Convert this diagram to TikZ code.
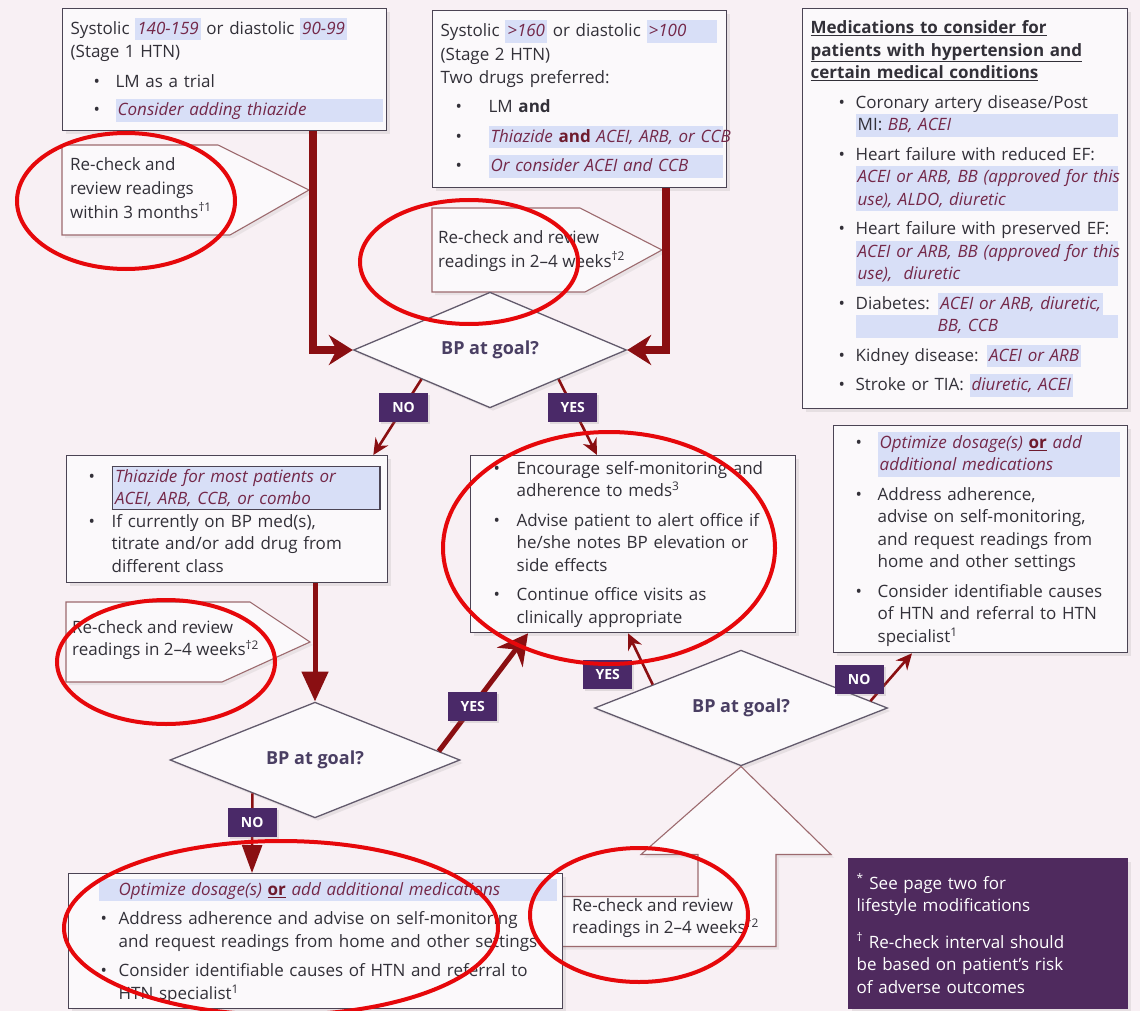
\documentclass[tikz,border=0pt]{standalone}
\usepackage{fontspec}
\setmainfont{Open Sans}
\usepackage{xcolor}
\usetikzlibrary{shapes.geometric, arrows.meta, positioning, calc, shadows}

\definecolor{bgpink}{HTML}{F8F0F4}
\definecolor{boxfill}{HTML}{FBF9FB}
\definecolor{boxline}{HTML}{4B4454}
\definecolor{txtgray}{HTML}{323038}
\definecolor{itred}{HTML}{742849}
\definecolor{andred}{HTML}{6E1B2E}
\definecolor{hlblue}{HTML}{D8DFF7}
\definecolor{arrred}{HTML}{8A0F12}
\definecolor{lblpurple}{HTML}{4A2968}
\definecolor{legpurple}{HTML}{4F2A5E}
\definecolor{dialine}{HTML}{625A6C}
\definecolor{diatext}{HTML}{4A3F63}
\definecolor{rcline}{HTML}{9C6A6E}
\definecolor{ovalred}{HTML}{E6080B}

\newcommand{\mainfs}{\fontsize{17}{22.5}\selectfont}
\newcommand{\hlstrut}{\rule[-6pt]{0pt}{22.5pt}}
\NewDocumentCommand{\bul}{O{15pt} O{23pt}}{\hspace*{#1}\makebox[#2][l]{\textbullet}}
\newcommand{\bind}[1][38pt]{\hspace*{#1}}
\newcommand{\itc}[1]{\textcolor{itred}{\itshape #1}}
\newcommand{\hlb}[1]{{\setlength{\fboxsep}{0pt}\colorbox{hlblue}{\hlstrut\hspace{2pt}#1\hspace{2pt}}}}
\newcommand{\hlw}[2]{{\setlength{\fboxsep}{0pt}\colorbox{hlblue}{\makebox[#1][l]{\hlstrut\hspace{2pt}#2}}}}
\newcommand{\orr}{\textcolor{andred}{\bfseries\underline{or}}}

\begin{document}
\begin{tikzpicture}[x=1pt, y=-1pt,
    every node/.style = {font=\mainfs, text=txtgray},
    box/.style = {draw=boxline, line width=1.3pt, fill=boxfill, anchor=north west,
      align=left, inner xsep=8pt, inner ysep=2pt,
      drop shadow={shadow xshift=3pt, shadow yshift=-3pt, opacity=0.15}},
    legbox/.style = {box, fill=legpurple, draw=legpurple, text=white},
    dia/.style = {diamond, draw=dialine, line width=1.3pt, fill=boxfill, inner sep=0pt,
      font=\fontsize{18}{20}\selectfont\bfseries, text=diatext,
      drop shadow={shadow xshift=3pt, shadow yshift=-3pt, opacity=0.15}},
    rcshape/.style = {draw=rcline, line width=1.1pt, fill=boxfill, line join=miter,
      drop shadow={shadow xshift=3pt, shadow yshift=-3pt, opacity=0.12}},
    rctext/.style = {anchor=north west, align=left, inner sep=0pt},
    yn/.style = {fill=lblpurple, text=white, inner sep=0pt,
      minimum width=49pt, minimum height=29pt,
      font=\fontsize{14}{14}\selectfont\bfseries,
      drop shadow={shadow xshift=2pt, shadow yshift=-2pt, opacity=0.2}},
    flow/.style = {draw=arrred, line width=8pt, line join=miter,
      -{Stealth[length=24pt, width=30pt]}},
    flowm/.style = {draw=arrred, line width=5pt,
      -{Triangle[length=30pt, width=26pt]}},
    flowy/.style = {draw=arrred, line width=5pt,
      -{Stealth[length=30pt, width=32pt]}},
    flowt/.style = {draw=arrred, line width=2.6pt,
      -{Stealth[length=16pt, width=15pt]}},
    flown/.style = {draw=arrred, line width=2.6pt,
      -{Triangle[length=28pt, width=20pt]}},
    oval/.style = {draw=ovalred, line width=4pt},
  ]
  \useasboundingbox (0,0) rectangle (1140,1011);
  \fill[bgpink] (0,0) rectangle (1140,1011);

  % stage boxes
  \node[box, text width=308pt, minimum height=122pt] (s1) at (62,8)
    {Systolic \hlb{\itc{140-159}} or diastolic \hlb{\itc{90-99}}\\[1pt]
     (Stage 1 HTN)\\[7pt]
     \bul[23pt][22pt]LM as a trial\\[6pt]
     \bul[23pt][22pt]\hlw{267pt}{\itc{Consider adding thiazide}}};
  \node[box, text width=278pt, minimum height=177pt] (s2) at (432,10)
    {Systolic \hlb{\itc{>160}} or diastolic \hlw{70pt}{\itc{>100}}\\[1.5pt]
     (Stage 2 HTN)\\
     Two drugs preferred:\\[7pt]
     \bul[15pt][33pt]LM \textbf{and}\\[7pt]
     \bul[15pt][33pt]\hlw{234pt}{\itc{Thiazide} \textcolor{andred}{\bfseries and} \itc{ACEI, ARB, or CCB}}\\[7pt]
     \bul[15pt][33pt]\hlw{234pt}{\itc{Or consider ACEI and CCB}}};

  % medications list
  \node[box, text width=309pt, minimum height=400pt] (med) at (802,8)
    {\textbf{\underline{Medications to consider for}}\\
     \textbf{\underline{patients with hypertension and}}\\
     \textbf{\underline{certain medical conditions}}\\[7pt]
     \bul[28pt][17pt]Coronary artery disease/Post\\
     \bind[45pt]\hlw{262pt}{MI: \itc{BB, ACEI}}\\[7pt]
     \bul[28pt][17pt]Heart failure with reduced EF:\\
     \bind[45pt]\hlw{262pt}{\itc{ACEI or ARB, BB (approved for this}}\\
     \bind[45pt]\hlw{262pt}{\itc{use), ALDO, diuretic}}\\[7pt]
     \bul[28pt][17pt]Heart failure with preserved EF:\\
     \bind[45pt]\hlw{262pt}{\itc{ACEI or ARB, BB (approved for this}}\\
     \bind[45pt]\hlw{262pt}{\itc{use), \ diuretic}}\\[7pt]
     \bul[28pt][17pt]Diabetes: \hlb{\itc{ACEI or ARB, diuretic,}}\\
     \bind[45pt]\hlw{262pt}{\hspace*{80pt}\itc{BB, CCB}}\\[7pt]
     \bul[28pt][17pt]Kidney disease: \hlb{\itc{ACEI or ARB}}\\[7pt]
     \bul[28pt][17pt]Stroke or TIA: \hlb{\itc{diuretic, ACEI}}};

  % re-check callouts
  \draw[rcshape] (62,145) -- (218,145) -- (309,190) -- (230,235) -- (62,235) -- cycle;
  \node[rctext] (rc1) at (70,157)
    {Re-check and\\[1.5pt]review readings\\[1.5pt]within 3 months\textsuperscript{\dag1}};
  \draw[rcshape] (432,208) -- (580,208) -- (662,250) -- (585,292) -- (432,292) -- cycle;
  \node[rctext] (rc2) at (438,230)
    {Re-check and review\\[1.5pt]readings in 2--4 weeks\textsuperscript{\dag2}};

  \node[dia, minimum width=273pt, minimum height=104pt] (d1) at (490,350) {BP at goal?};

  \node[box, text width=305pt, minimum height=127pt] (lm) at (66,455)
    {\bul[14pt][23pt]{\setlength{\fboxsep}{2pt}\setlength{\fboxrule}{1.5pt}%
       \fcolorbox{boxline}{hlblue}{\parbox[t]{262pt}{\raggedright
       \itc{Thiazide for most patients or}\\\itc{ACEI, ARB, CCB, or combo}}}}\\[3pt]
     \bul[14pt][23pt]If currently on BP med(s),\\
     \bind[37pt]titrate and/or add drug from\\
     \bind[37pt]different class};
  \draw[rcshape] (66,602) -- (250,602) -- (310,642) -- (222,682) -- (66,682) -- cycle;
  \node[rctext] (rc3) at (72,620)
    {Re-check and review\\readings in 2--4 weeks\textsuperscript{\dag2}};

  \node[box, text width=309pt, minimum height=177pt] (cb) at (470,455)
    {\bul Encourage self-monitoring and\\
     \bind adherence to meds\textsuperscript{3}\\[7pt]
     \bul Advise patient to alert office if\\
     \bind he/she notes BP elevation or\\
     \bind side effects\\[7pt]
     \bul Continue office visits as\\
     \bind clinically appropriate};
  \node[box, text width=278pt, minimum height=227pt] (rb) at (833,425)
    {\bul[14pt][22pt]\hlw{242pt}{\itc{Optimize dosage(s)} \orr\ \itc{add}}\\
     \bind[36pt]\hlw{242pt}{\itc{additional medications}}\\[7pt]
     \bul[14pt][22pt]Address adherence,\\
     \bind[36pt]advise on self-monitoring,\\
     \bind[36pt]and request readings from\\
     \bind[36pt]home and other settings\\[7pt]
     \bul[14pt][22pt]Consider identifiable causes\\
     \bind[36pt]of HTN and referral to HTN\\
     \bind[36pt]specialist\textsuperscript{1}};

  \node[dia, minimum width=290pt, minimum height=104pt] (d2) at (315,760) {BP at goal?};
  \node[dia, minimum width=293pt, minimum height=103pt] (d3) at (741,708) {BP at goal?};

  % big up arrow with re-check text
  \draw[rcshape] (d3.south) -- ++(90,88) -- ++(-55,0) -- ++(0,92) -- ++(-220,0)
    -- ++(0,-50) -- ++(142,0) -- ++(0,-42) -- ++(-57,0) -- cycle;
  \node[rctext] (rc4) at (572,898)
    {Re-check and review\\readings in 2--4 weeks\textsuperscript{\dag2}};

  \node[box, text width=478pt, minimum height=135pt] (bl) at (68,873)
    {\hspace*{22pt}\hlw{458pt}{\hspace*{18pt}\itc{Optimize dosage(s)} \orr\ \itc{add additional medications}}\\[7pt]
     \bul[24pt][18pt]Address adherence and advise on self-monitoring\\
     \bind[42pt]and request readings from home and other settings\\[7pt]
     \bul[24pt][18pt]Consider identifiable causes of HTN and referral to\\
     \bind[42pt]HTN specialist\textsuperscript{1}};

  \node[legbox, text width=263pt, minimum height=150pt] (leg) at (848,858)
    {\textsuperscript{*} See page two for\\
     lifestyle modifications\\[14pt]
     \textsuperscript{\dag} Re-check interval should\\
     be based on patient's risk\\
     of adverse outcomes};

  % flow lines
  \draw[flow] ([xshift=251]s1.south west) |- (d1.west);
  \draw[flow] ([xshift=234]s2.south west) |- (d1.east);
  \draw[flowt] (d1.south west) -- ([xshift=-15]lm.north east)
    node[yn, pos=0.37] (no1) {NO};
  \draw[flowt] (d1.south east) -- ([xshift=127]cb.north west)
    node[yn, pos=0.37] (yes1) {YES};
  \draw[flowm] (d2.north |- lm.south) -- (d2.north);
  \draw[flowy] ($(d2.east)!0.15!(d2.north)$) -- ([xshift=58]cb.south west)
    node[yn, pos=0.38] (yes2) {YES};
  \draw[flown] ($(d2.west)!0.57!(d2.south)$) -- ([xshift=184]bl.north west)
    node[yn, pos=0.37] (no2) {NO};
  \draw[flowt] ($(d3.west)!0.4!(d3.north)$) -- ([xshift=158]cb.south west)
    node[yn, pos=0.2, xshift=-40pt] (yes3) {YES};
  \draw[flowt] ($(d3.east)!0.12!(d3.north)$) -- ([xshift=79]rb.south west)
    node[yn, pos=0.45, xshift=-30pt] (no3) {NO};

  % red marks
  \draw[oval] (126,201) ellipse [x radius=109, y radius=68];
  \draw[oval] (469,262) ellipse [x radius=109, y radius=62];
  \draw[oval] (609,548) ellipse [x radius=166, y radius=116];
  \draw[oval] (166,662) ellipse [x radius=109, y radius=62];
  \draw[oval] (281,928) ellipse [x radius=217, y radius=87];
  \draw[oval] (639,915) ellipse [x radius=109, y radius=67];
\end{tikzpicture}
\end{document}
